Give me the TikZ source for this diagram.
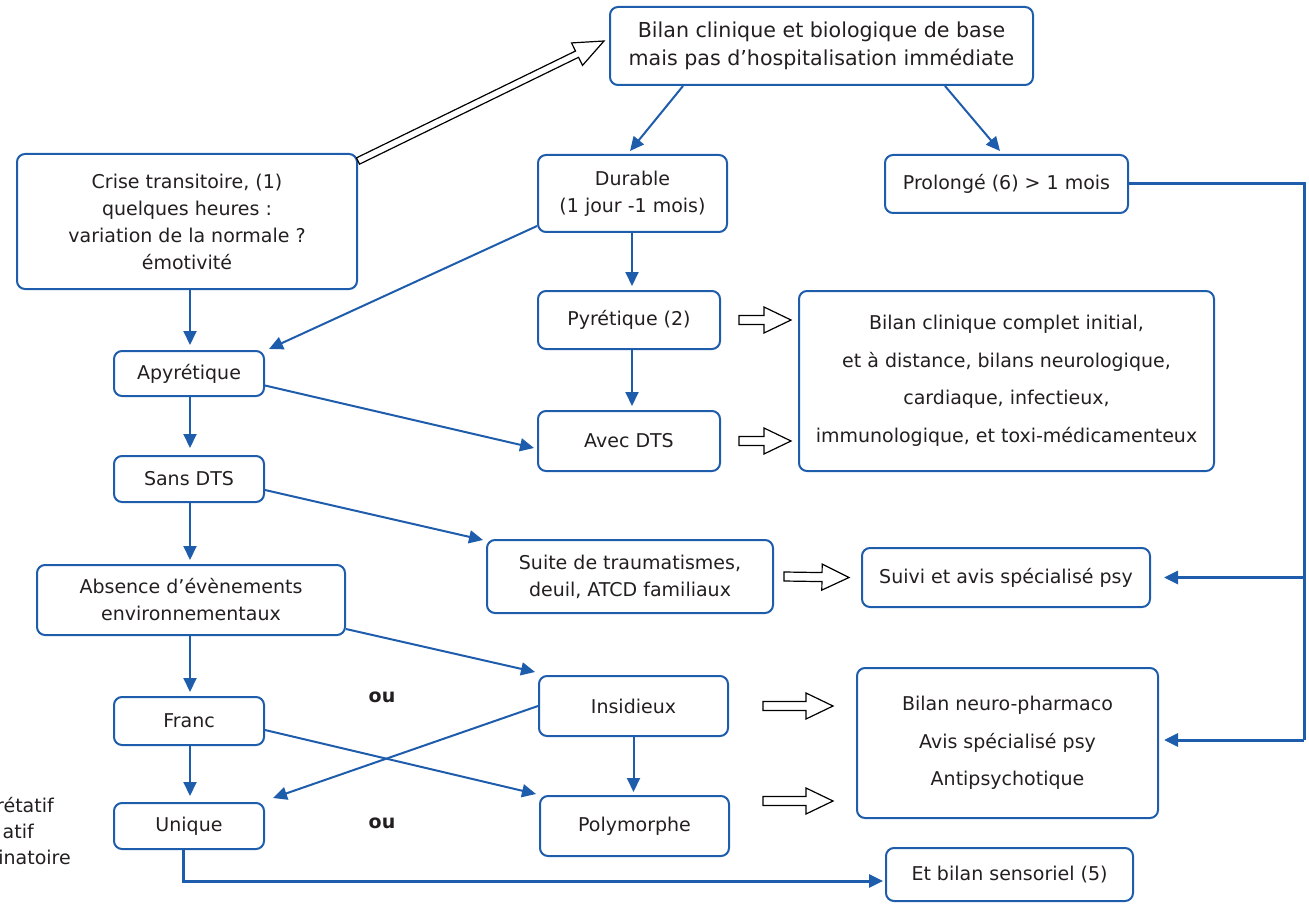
\documentclass[tikz,border=0pt]{standalone}
\usepackage{fontspec}
\setmainfont{DejaVu Sans}
\usetikzlibrary{arrows.meta,calc}
\definecolor{bl}{RGB}{30,92,172}
\definecolor{tx}{RGB}{35,31,32}
\tikzset{
  box/.style={draw=bl, line width=2pt, rounded corners=8pt, align=center, text=tx,
    font=\fontsize{19}{27}\selectfont, inner sep=0pt},
  lbl/.style={text=tx, font=\fontsize{19}{27}\selectfont, inner sep=0pt},
  conn/.style={draw=bl, line width=2pt, -{Triangle[length=14pt,width=13pt]}},
  connB/.style={draw=bl, line width=3pt, -{Triangle[length=14pt,width=13pt]}},
  lineB/.style={draw=bl, line width=3pt, line join=miter},
  hollow/.style={draw=black, line width=1.2pt, fill=white, line join=miter},
}
\newcommand\hollowarr[5]{%
  \draw[hollow] let \p1=#1, \p2=#2,
     \n1={atan2(\y2-\y1,\x2-\x1)}, \n2={veclen(\x2-\x1,\y2-\y1)-#5} in
   ($(\p1)+(\n1+90:#3)$) -- ($(\p1)+(\n1:\n2)+(\n1+90:#3)$) --
   ($(\p1)+(\n1:\n2)+(\n1+90:#4)$) -- (\p2) --
   ($(\p1)+(\n1:\n2)+(\n1-90:#4)$) -- ($(\p1)+(\n1:\n2)+(\n1-90:#3)$) --
   ($(\p1)+(\n1-90:#3)$) -- cycle;}
\begin{document}
\begin{tikzpicture}[x=1pt,y=-1pt]
\useasboundingbox (0,0) rectangle (1309,904);
\clip (0,0) rectangle (1309,904);
% boxes
\node[box,minimum width=423pt,minimum height=78pt,font=\fontsize{20.6}{28}\selectfont] (top) at (821.5,46) {Bilan clinique et biologique de base\\mais pas d’hospitalisation immédiate};
\node[box,minimum width=340pt,minimum height=135pt] (crise) at (187,221.5) {Crise transitoire, (1)\\quelques heures :\\variation de la normale ?\\émotivité};
\node[box,minimum width=189pt,minimum height=77pt] (durable) at (632.5,193.5) {Durable\\(1 jour -1 mois)};
\node[box,minimum width=243pt,minimum height=58pt] (prolonge) at (1006.5,184) {Prolongé (6) > 1 mois};
\node[box,minimum width=182pt,minimum height=58pt] (pyr) at (629,320) {Pyrétique (2)};
\node[box,minimum width=182pt,minimum height=60pt] (avec) at (629,441) {Avec DTS};
\node[box,minimum width=415pt,minimum height=180pt,font=\fontsize{19}{37.5}\selectfont] (big) at (1006.5,381) {Bilan clinique complet initial,\\et à distance, bilans neurologique,\\cardiaque, infectieux,\\immunologique, et toxi-médicamenteux};
\node[box,minimum width=150pt,minimum height=45pt] (apyr) at (189,373.5) {Apyrétique};
\node[box,minimum width=150pt,minimum height=46pt] (sans) at (189,479) {Sans DTS};
\node[box,minimum width=286pt,minimum height=73pt] (suite) at (630,576.5) {Suite de traumatismes,\\deuil, ATCD familiaux};
\node[box,minimum width=288pt,minimum height=59pt] (suivi) at (1006,577.5) {Suivi et avis spécialisé psy};
\node[box,minimum width=308pt,minimum height=70pt] (absence) at (191,600) {Absence d’évènements\\environnementaux};
\node[box,minimum width=189pt,minimum height=60pt] (insid) at (633.5,706) {Insidieux};
\node[box,minimum width=301pt,minimum height=150pt,font=\fontsize{19}{37.5}\selectfont] (bneuro) at (1007.5,743) {Bilan neuro-pharmaco\\Avis spécialisé psy\\Antipsychotique};
\node[box,minimum width=150pt,minimum height=48pt] (franc) at (189,721) {Franc};
\node[box,minimum width=150pt,minimum height=46pt] (unique) at (189,826) {Unique};
\node[box,minimum width=189pt,minimum height=60pt] (poly) at (634.5,826) {Polymorphe};
\node[box,minimum width=247pt,minimum height=53pt] (sens) at (1009.5,874.5) {Et bilan sensoriel (5)};
% free labels
\node[lbl,font=\fontsize{19}{27}\selectfont\bfseries] (ou1) at (382,697) {ou};
\node[lbl,font=\fontsize{19}{27}\selectfont\bfseries] (ou2) at (382,823) {ou};
\node[lbl,anchor=east] (l1) at (54,805) {rétatif};
\node[lbl,anchor=east] (l2) at (34,831) {atif};
\node[lbl,anchor=east] (l3) at (71,857) {inatoire};
% column coordinates
\coordinate (lx) at (190,0);
\coordinate (cx) at (632,0);
\coordinate (rx) at (1304,0);
\coordinate (rt) at (rx |- prolonge.east);
\coordinate (rb) at (1304,740);
% connectors
\draw[conn] ($(top.south)+(-138.5,0)$) -- ($(durable.north)+(-2.5,-3)$);
\draw[conn] ($(top.south)+(123.5,0)$) -- ($(prolonge.north)+(-6.5,-3)$);
\draw[conn] ($(durable.south west)+(0,-7)$) -- ($(apyr.north east)+(4,-1)$);
\draw[conn] (cx |- durable.south) -- ($(cx |- pyr.north)+(0,-4)$);
\draw[conn] (cx |- pyr.south) -- ($(cx |- avec.north)+(0,-4)$);
\draw[conn] (lx |- crise.south) -- ($(lx |- apyr.north)+(0,-5)$);
\draw[conn] ($(apyr.east)+(0,12)$) -- ($(avec.west)+(-3,7)$);
\draw[conn] (lx |- apyr.south) -- ($(lx |- sans.north)+(0,-7)$);
\draw[conn] ($(sans.east)+(0,11)$) -- ($(suite.north west)+(-3,1)$);
\draw[conn] (lx |- sans.south) -- ($(lx |- absence.north)+(0,-4)$);
\draw[conn] ($(absence.south east)+(0,-7)$) -- ($(insid.north west)+(-3,-3)$);
\draw[conn] (lx |- absence.south) -- ($(lx |- franc.north)+(0,-4)$);
\draw[conn] (insid.west) -- ($(unique.north east)+(8,-4)$);
\draw[conn] ($(franc.east)+(0,9)$) -- ($(poly.north west)+(-3,-1)$);
\draw[conn] (lx |- franc.south) -- ($(lx |- unique.north)+(0,-6)$);
\draw[conn] (insid.south) -- ($(insid.south |- poly.north)+(0,-3)$);
\coordinate (ub) at ($(unique.south)+(-6,31)$);
\draw[connB] ($(unique.south)+(-6,0)$) -- (ub) -- ($(ub -| sens.west)+(-2,0)$);
\draw[lineB] (prolonge.east) -- (rt) -- (rb);
\draw[connB] (rt |- suivi.east) -- ($(suivi.east)+(13,0)$);
\draw[connB] (rb) -- ($(rb -| bneuro.east)+(5,0)$);
% hollow arrows
\hollowarr{($(crise.north east)+(0,8)$)}{($(top.west)+(-5,-5)$)}{3.5pt}{12.5pt}{30pt}
\hollowarr{($(pyr.east)+(18,0)$)}{($(big.west |- pyr.east)+(-7,0)$)}{4.5pt}{13pt}{27pt}
\hollowarr{($(avec.east)+(18,0)$)}{($(big.west |- avec.east)+(-7,0)$)}{4.5pt}{13pt}{27pt}
\hollowarr{($(suite.east)+(10,0)$)}{($(suivi.west)+(-12,0)$)}{4.5pt}{13pt}{27pt}
\hollowarr{($(insid.east)+(34,0)$)}{($(bneuro.west |- insid.east)+(-23,0)$)}{4.5pt}{13pt}{27pt}
\hollowarr{($(poly.north east)+(33,6)$)}{($(bneuro.west |- poly.north)+(-23,6)$)}{4.5pt}{13pt}{27pt}
\end{tikzpicture}
\end{document}
